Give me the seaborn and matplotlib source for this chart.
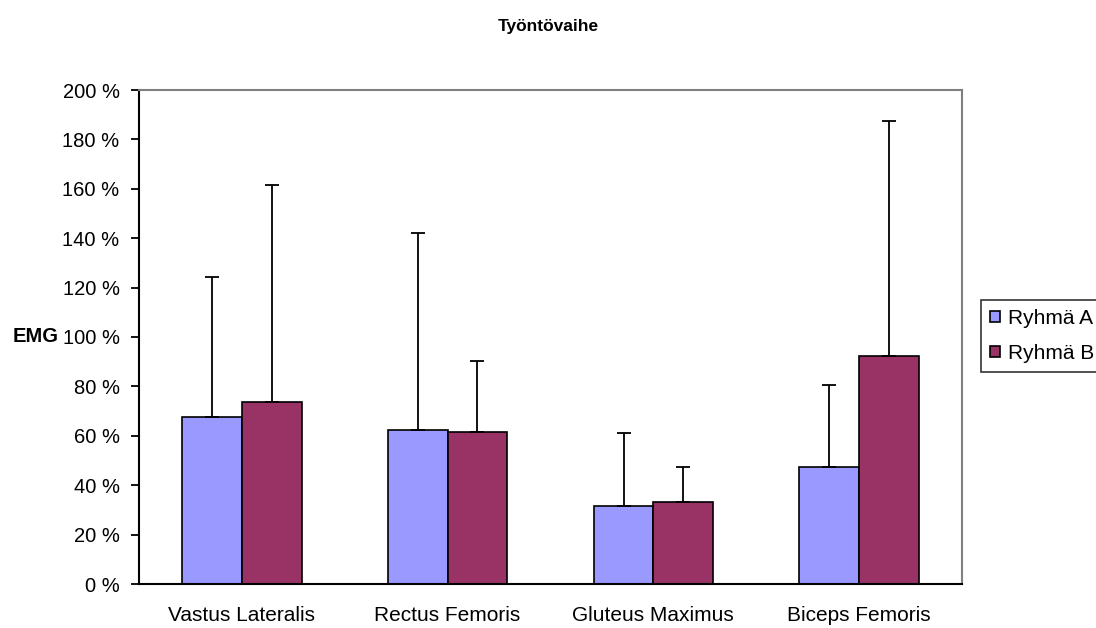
import seaborn as sns
import pandas as pd
import matplotlib
matplotlib.use('Agg')
import matplotlib.pyplot as plt
from matplotlib.ticker import FixedLocator, FuncFormatter

muscles = ['Vastus Lateralis', 'Rectus Femoris', 'Gluteus Maximus', 'Biceps Femoris']
groups = ['Ryhmä A', 'Ryhmä B']
ryhma_a = [67.5, 62.5, 31.7, 47.2]
ryhma_b = [73.8, 61.7, 33.2, 92.4]
# upper end of the error bar (mean + sd)
ryhma_a_top = [124.3, 142.0, 61.0, 80.4]
ryhma_b_top = [161.5, 90.2, 47.4, 187.4]
colors = ['#9999FF', '#993366']

df = pd.DataFrame({
    'muscle': muscles * 2,
    'group': [groups[0]] * 4 + [groups[1]] * 4,
    'value': ryhma_a + ryhma_b,
})

sns.set_style('white')
plt.rcParams['font.family'] = ['Liberation Sans', 'DejaVu Sans']
plt.rcParams['text.color'] = 'black'
plt.rcParams['axes.labelcolor'] = 'black'
plt.rcParams['xtick.color'] = 'black'
plt.rcParams['ytick.color'] = 'black'

fig = plt.figure(figsize=(10.96, 6.28), dpi=100)
ax = fig.add_axes([139 / 1096, 44 / 628, 823 / 1096, 494 / 628])

sns.barplot(data=df, x='muscle', y='value', hue='group', hue_order=groups,
            palette=colors, width=0.58, edgecolor='black', linewidth=1.2,
            errorbar=None, ax=ax, saturation=1)

tops = [ryhma_a_top, ryhma_b_top]
for cont, top in zip(ax.containers, tops):
    xs = [b.get_x() + b.get_width() / 2 for b in cont]
    hs = [b.get_height() for b in cont]
    err = [t - h for t, h in zip(top, hs)]
    ax.errorbar(xs, hs, yerr=[[0] * len(hs), err], fmt='none', ecolor='black',
                elinewidth=1.3, capsize=5.2, capthick=1.3, zorder=1)

ax.set_xlim(-0.5, 3.5)
ax.set_ylim(0, 200)
ax.set_yticks(range(0, 201, 20))
ax.yaxis.set_major_formatter(FuncFormatter(lambda v, p: f'{int(v)} %'))

ax.xaxis.set_major_locator(FixedLocator([-0.5, 0.5, 1.5, 2.5, 3.5]))
ax.xaxis.set_minor_locator(FixedLocator([0, 1, 2, 3]))
ax.set_xticklabels([])
ax.set_xticklabels(muscles, minor=True)
ax.tick_params(axis='x', which='minor', length=0, pad=16, labelsize=15)
ax.tick_params(axis='x', which='major', length=6, width=1.3, direction='out', color='black')
ax.tick_params(axis='y', length=6, width=1.3, direction='out', color='black',
               labelsize=14.5, pad=8, left=True)

ax.set_xlabel('')
ax.set_ylabel('EMG', rotation=0, fontsize=14.5, fontweight='bold', ha='center', va='center')
ax.yaxis.set_label_coords(-0.126, 0.5)

for s in ['left', 'bottom']:
    ax.spines[s].set_color('black')
    ax.spines[s].set_linewidth(1.5)
for s in ['top', 'right']:
    ax.spines[s].set_color('#808080')
    ax.spines[s].set_linewidth(1.5)

fig.suptitle('Työntövaihe', fontsize=12.5, fontweight='bold', y=1 - 27 / 628, va='center')

handles, labels = ax.get_legend_handles_labels()
leg = ax.legend(handles, labels, loc='center left',
                bbox_to_anchor=(981 / 1096, 1 - 336 / 628), bbox_transform=fig.transFigure,
                fontsize=15, frameon=True, fancybox=False, edgecolor='black',
                handlelength=0.45, handleheight=0.45, handletextpad=0.4,
                labelspacing=0.75, borderpad=0.45, borderaxespad=0)
leg.get_frame().set_linewidth(1.2)

fig.savefig('out.png', dpi=100)
